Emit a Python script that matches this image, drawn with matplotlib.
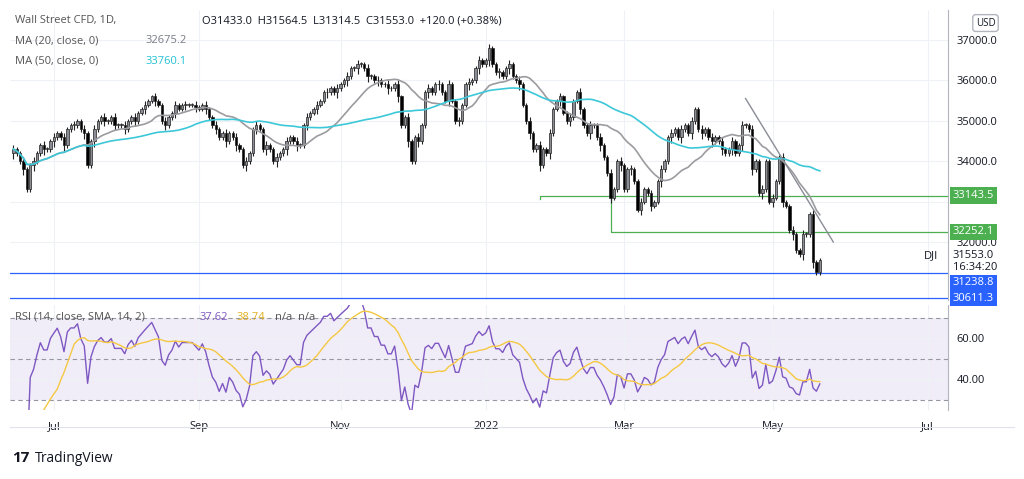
import numpy as np
import pandas as pd
import matplotlib.pyplot as plt

# ── Daily closes ─────────────────────────────────────────────────────────────
jun21 = [34300, 34200, 34000, 33800, 33300, 33900, 34000, 34200, 34400, 34300, 34300, 34500]
jul21 = [34600, 34700, 34600, 34400, 34800, 34900, 34900, 35000, 34800, 34700, 33900, 34500,
         34800, 35000, 35100, 35000, 35000, 35100, 34900, 34900, 34900]
aug21 = [34800, 35000, 35100, 35000, 35200, 35300, 35400, 35500, 35600, 35500, 35400, 35000,
         34900, 35100, 35200, 35400, 35300, 35400, 35400, 35400, 35400, 35350]
sep21 = [35300, 35400, 35300, 35100, 34900, 34800, 34600, 34700, 34500, 34700, 34600, 34400,
         34300, 33900, 34000, 34200, 34800, 34900, 34800, 34300, 34400]
oct21 = [34300, 34000, 34100, 34200, 34300, 34500, 34600, 34500, 34400, 34400, 34900, 35100,
         35200, 35300, 35400, 35500, 35700, 35700, 35800, 35700, 35800]
nov21 = [35900, 36000, 36100, 36300, 36300, 36400, 36400, 36300, 36100, 36100, 36000, 36000,
         35900, 35900, 35800, 35800, 35900, 35600, 34900, 35100, 34500]
dec21 = [34000, 34600, 34500, 34900, 35700, 35800, 35700, 35900, 35900, 35700, 35500, 35900,
         35500, 35000, 35000, 35400, 35900, 35950, 36000, 36300, 36500, 36400]
jan22 = [36500, 36800, 36400, 36200, 36200, 36100, 36300, 36400, 36100, 36000, 35900, 35400,
         35000, 34700, 34300, 34400, 33900, 34300, 34200, 34700]
feb22 = [35300, 35500, 35600, 35200, 35000, 35100, 35500, 35700, 35300, 34900, 34700, 34900,
         34900, 34600, 34400, 34100, 33700, 33100, 33300, 34000, 33900]
mar22 = [33300, 33800, 33800, 33500, 32800, 33000, 33300, 33200, 32900, 33000, 33500, 33800,
         34000, 34600, 34700, 34800, 34600, 34800, 34900, 34700, 35000, 35300, 34800]
apr22 = [34700, 34800, 34600, 34500, 34600, 34500, 34300, 34200, 34300, 34500, 34200, 34400,
         34900, 34900, 34800, 33800, 34000, 33200, 33300, 34000, 33000]
may22 = [33100, 33500, 34100, 33000, 32900, 32300, 32200, 31800, 31700, 32200, 32200, 32700,
         31500, 31250, 31553]

months = [jun21, jul21, aug21, sep21, oct21, nov21, dec21, jan22, feb22, mar22, apr22, may22]
month_names = ["Jun", "Jul", "Aug", "Sep", "Oct", "Nov", "Dec", "2022", "Feb", "Mar", "Apr", "May"]
tick_months = ["Jul", "Sep", "Nov", "2022", "Mar", "May"]

support_levels = [33143.5, 32252.1]      # green
blue_levels = [31238.8, 30611.3]
price_ticks = [37000, 36000, 35000, 34000, 33000, 32000]
rsi_ticks = [60, 40]

closes = np.array(sum(months, []), dtype=float)
opens = np.concatenate([[closes[0] - 100], closes[:-1]])
n = len(closes)
idx = np.arange(n)
starts = np.cumsum([0] + [len(m) for m in months])[:-1]
month_start = dict(zip(month_names, starts))

s = pd.Series(closes)
ma20 = s.rolling(20, min_periods=1).mean()
ma50 = s.rolling(50, min_periods=1).mean()
delta = s.diff().fillna(0)
gain = delta.clip(lower=0).ewm(alpha=1 / 14, adjust=False).mean()
loss = (-delta.clip(upper=0)).ewm(alpha=1 / 14, adjust=False).mean()
rsi = 100 - 100 / (1 + gain / loss.replace(0, 1e-9))
rsi_ma = rsi.rolling(14, min_periods=1).mean()

plt.rcParams['font.family'] = 'Open Sans'
fig = plt.figure(figsize=(10.24, 4.79), dpi=100)
ax = fig.add_axes([10 / 1024, 1 - 300 / 479, 938 / 1024, 290 / 479])
ax2 = fig.add_axes([10 / 1024, 1 - 410 / 479, 938 / 1024, 105 / 479], sharex=ax)

grid_c = '#eef1f6'
# candles
for i in idx:
    o, c = opens[i], closes[i]
    up = c >= o
    col = '#8a8d95' if up else '#000000'
    wick = 70 if i % 3 else 140
    ax.vlines(i, min(o, c) - wick, max(o, c) + wick * 0.7, color='#222222', lw=0.8, zorder=3)
    ax.bar(i, max(abs(c - o), 20), bottom=min(o, c), width=0.7, color=col,
           edgecolor='#222222', lw=0.5, zorder=4)

ax.plot(idx, ma20, color='#9b9ba0', lw=1.2, zorder=5)
ax.plot(idx, ma50, color='#3cc8d8', lw=1.2, zorder=5)

# support lines from their lows
jan24 = month_start["2022"] + 16
feb24 = month_start["Feb"] + 17
ax.plot([jan24, jan24, 300], [support_levels[0] - 80, support_levels[0], support_levels[0]],
        color='#4caf50', lw=0.9, zorder=2)
ax.plot([feb24, feb24, 300], [support_levels[1] + 900, support_levels[1], support_levels[1]],
        color='#4caf50', lw=0.9, zorder=2)
for lv in blue_levels:
    ax.axhline(lv, color='#2962ff', lw=0.9, zorder=2)

# downtrend line
apr20 = month_start["Apr"] + 13
ax.plot([apr20, n + 3], [35550, 32000], color='#8a8d95', lw=1.0, zorder=5)

ax.set_ylim(30564, 37740)
ax.set_xlim(-1, 277)
ax.yaxis.tick_right()
ax.set_yticks(price_ticks)
ax.set_yticklabels([f"{v:.1f}" if v != 33000 else "" for v in price_ticks],
                   fontsize=8, color='#131722')
ax.tick_params(axis='y', length=0, pad=6)
ax.tick_params(axis='x', length=0, labelbottom=False)
ax.grid(color=grid_c, lw=0.8)
for sp in ['top', 'left', 'bottom']:
    ax.spines[sp].set_visible(False)
ax.spines['right'].set_color('#b2b5be')

# right-side price labels
def price_tag(a, y, text, fc, tc='white'):
    a.text(1.005, y, text, transform=a.get_yaxis_transform(), fontsize=8, color=tc,
           va='center', ha='left',
           bbox=dict(boxstyle='square,pad=0.25', fc=fc, ec='none'), zorder=10, clip_on=False)

price_tag(ax, support_levels[0], f"{support_levels[0]:.1f}", '#4caf50')
price_tag(ax, support_levels[1], f"{support_levels[1]:.1f}", '#4caf50')
price_tag(ax, blue_levels[0] - 250, f"{blue_levels[0]:.1f}", '#2962ff')
price_tag(ax, blue_levels[1], f"{blue_levels[1]:.1f}", '#2962ff')
ax.text(1.005, closes[-1] + 120, f"{closes[-1]:.1f}", transform=ax.get_yaxis_transform(),
        fontsize=8, color='#131722', va='center')
ax.text(1.005, closes[-1] - 180, "16:34:20", transform=ax.get_yaxis_transform(),
        fontsize=8, color='#131722', va='center')
ax.text(0.99, closes[-1] + 120, "DJI", transform=ax.get_yaxis_transform(),
        fontsize=8, color='#131722', va='center', ha='right')
ax.text(1.04, 0.955, "USD", transform=ax.transAxes, fontsize=7, color='#131722', ha='center',
        va='center', bbox=dict(boxstyle='round,pad=0.3', fc='white', ec='#b2b5be'))

# legend text
ax.text(0.005, 0.955, "Wall Street CFD, 1D,", transform=ax.transAxes, fontsize=8, color='#555')
ax.text(0.205, 0.955, "O31433.0  H31564.5  L31314.5  C31553.0  +120.0 (+0.38%)",
        transform=ax.transAxes, fontsize=8, color='#131722')
ax.text(0.005, 0.885, "MA (20, close, 0)", transform=ax.transAxes, fontsize=8, color='#555')
ax.text(0.145, 0.885, f"{ma20.iloc[-1]:.1f}", transform=ax.transAxes, fontsize=8, color='#787b86')
ax.text(0.005, 0.815, "MA (50, close, 0)", transform=ax.transAxes, fontsize=8, color='#555')
ax.text(0.145, 0.815, f"{ma50.iloc[-1]:.1f}", transform=ax.transAxes, fontsize=8, color='#22c0d4')

# RSI pane
ax2.axhspan(30, 70, color='#7e57c2', alpha=0.1, lw=0)
for lv in [70, 50, 30]:
    ax2.axhline(lv, color='#9598a1', lw=0.8, ls=(0, (4, 3)))
ax2.plot(idx, rsi, color='#7e57c2', lw=1.0)
ax2.plot(idx, rsi_ma, color='#f5c842', lw=1.0)
ax2.set_ylim(24.9, 76.1)
ax2.yaxis.tick_right()
ax2.set_yticks(rsi_ticks)
ax2.set_yticklabels([f"{v:.2f}" for v in rsi_ticks], fontsize=8, color='#131722')
ax2.tick_params(axis='y', length=0, pad=6)
ax2.grid(color=grid_c, lw=0.8)
for sp in ['top', 'left', 'bottom']:
    ax2.spines[sp].set_visible(False)
ax2.spines['right'].set_color('#b2b5be')
ax2.text(0.005, 0.86, "RSI (14, close, SMA, 14, 2)", transform=ax2.transAxes, fontsize=8, color='#555')
ax2.text(0.202, 0.86, f"{rsi.iloc[-1]:.2f}", transform=ax2.transAxes, fontsize=8, color='#7e57c2')
ax2.text(0.242, 0.86, f"{rsi_ma.iloc[-1]:.2f}", transform=ax2.transAxes, fontsize=8, color='#e0b020')
ax2.text(0.282, 0.86, "n/a  n/a", transform=ax2.transAxes, fontsize=8, color='#555')

xt = [month_start[m] for m in tick_months] + [n + 31]
ax2.set_xticks(xt)
ax2.set_xticklabels(tick_months + ["Jul"], fontsize=8, color='#131722')
ax2.tick_params(axis='x', length=0, pad=8)

fig.text(0.012, 0.035, "17", fontsize=11, fontweight='bold', color='#131722')
fig.text(0.034, 0.035, "TradingView", fontsize=10, color='#131722')
fig.lines.append(plt.Line2D([0.01, 0.99], [0.108, 0.108], transform=fig.transFigure,
                            color='#e0e3eb', lw=0.8))

fig.savefig('out.png', dpi=100)
